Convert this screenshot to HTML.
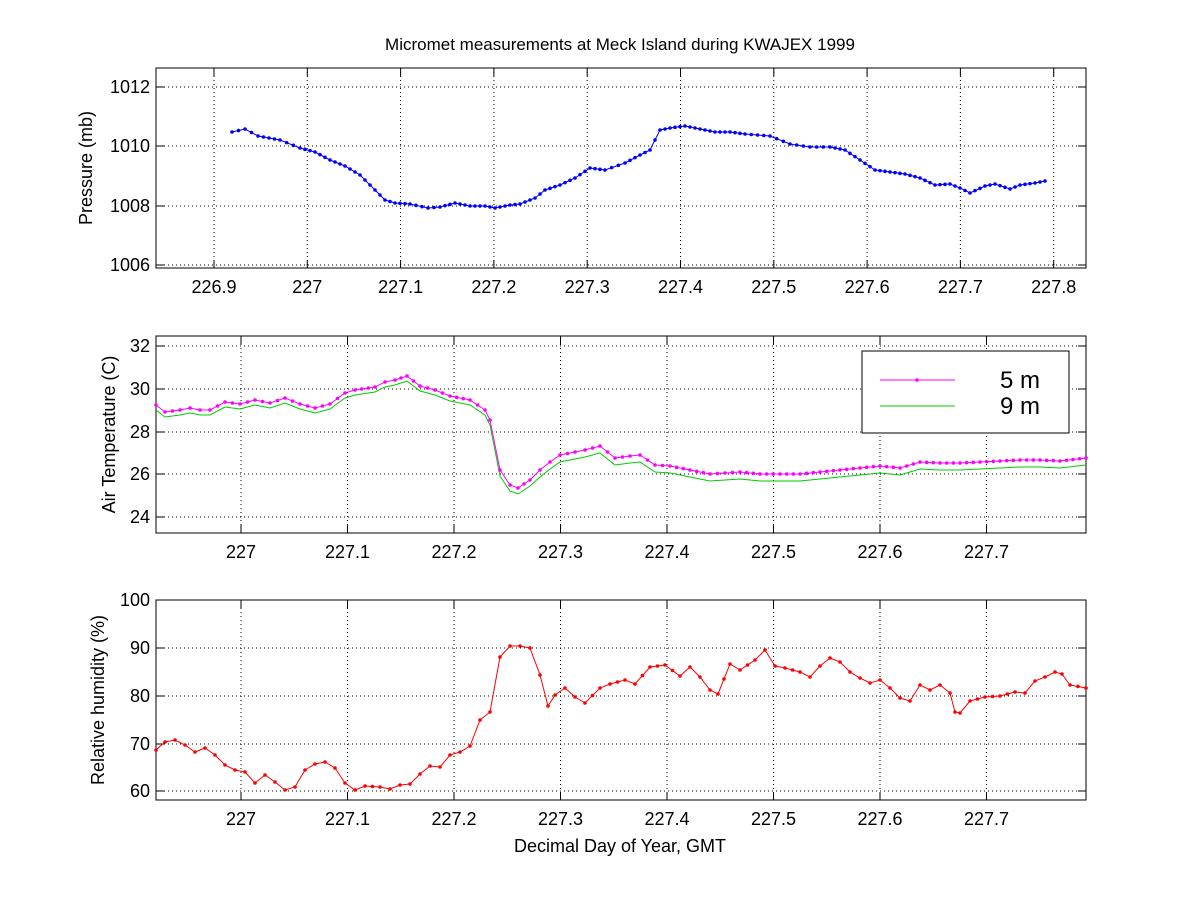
<!DOCTYPE html>
<html><head><meta charset="utf-8"><style>
body{margin:0;background:#fff}
svg text{font-family:"Liberation Sans",Arial,sans-serif;fill:#000}
</style></head><body>
<svg id="s" width="1200" height="900" xmlns="http://www.w3.org/2000/svg">
<rect width="1200" height="900" fill="#fff"/>
</svg>
<script>
const S=document.getElementById('s');const NS='http://www.w3.org/2000/svg';
function el(t,a,txt){const e=document.createElementNS(NS,t);for(const k in a)e.setAttribute(k,a[k]);if(txt!==undefined)e.textContent=txt;S.appendChild(e);return e;}
const L=156,R=1086;
function axes(top,bot,xt,yt,ylab,lx){
  xt.forEach(([x,l])=>{el('line',{x1:x,y1:top,x2:x,y2:bot,stroke:'#000','stroke-width':1,'stroke-dasharray':'1,3'});
    el('line',{x1:x,y1:bot,x2:x,y2:bot-8,stroke:'#000'});el('line',{x1:x,y1:top,x2:x,y2:top+8,stroke:'#000'});
    el('text',{x:x,y:bot+25,'font-size':18,'text-anchor':'middle'},l);});
  yt.forEach(([y,l])=>{el('line',{x1:L,y1:y,x2:R,y2:y,stroke:'#000','stroke-width':1,'stroke-dasharray':'1,3'});
    el('line',{x1:L,y1:y,x2:L+8,y2:y,stroke:'#000'});el('line',{x1:R,y1:y,x2:R-8,y2:y,stroke:'#000'});
    el('text',{x:L-6,y:y+6,'font-size':18,'text-anchor':'end'},l);});
  el('rect',{x:L,y:top,width:R-L,height:bot-top,fill:'none',stroke:'#000'});
  const cy=(top+bot)/2;el('text',{x:0,y:0,'font-size':18,'text-anchor':'middle',transform:`translate(${lx},${cy}) rotate(-90)`},ylab);
}
function series(pts,col,step,dots,off){
  off=off||0;let d='';pts.forEach((p,i)=>d+=(i?'L':'M')+p[0]+','+(p[1]+off));
  el('path',{d:d,fill:'none',stroke:col,'stroke-width':1});
  if(!dots)return;
  for(let i=0;i<pts.length-1;i++){const [x0,y0]=pts[i],[x1,y1]=pts[i+1];const n=Math.max(1,Math.round((x1-x0)/step));
    for(let k=0;k<n;k++){const t=k/n;el('circle',{cx:x0+(x1-x0)*t,cy:y0+(y1-y0)*t+off,r:1.8,fill:col});}}
  const p=pts[pts.length-1];el('circle',{cx:p[0],cy:p[1]+off,r:1.8,fill:col});
}
el('text',{x:620,y:50,'font-size':17,'text-anchor':'middle'},'Micromet measurements at Meck Island during KWAJEX 1999');
const lab1=['226.9','227','227.1','227.2','227.3','227.4','227.5','227.6','227.7','227.8'];
const xt1=lab1.map((l,i)=>[214+93.3*i,l]);
axes(68,268,xt1,[[87,'1012'],[146,'1010'],[206,'1008'],[265,'1006']],'Pressure (mb)',92);
const P=[[232,132],[245,129],[258,136],[280,140],[300,148],[315,152],[330,160],[345,166],[360,175],[375,190],[385,200],[395,203],[410,204],[428,208],[440,207],[455,203],[470,206],[485,206],[495,208],[510,205],[520,204],[535,198],[545,190],[560,185],[575,178],[590,168],[605,170],[625,163],[640,155],[650,150],[660,130],[670,128],[685,126],[700,129],[715,132],[730,132],[745,134],[770,136],[790,144],[810,147],[830,147],[845,150],[860,160],[875,170],[890,172],[905,174],[920,178],[935,185],[950,184],[960,188],[970,193],[985,186],[995,184],[1010,189],[1020,185],[1035,183],[1045,181]];
series(P,'#0000ff',5.8,true);
const lab2=['227','227.1','227.2','227.3','227.4','227.5','227.6','227.7'];
const xt2=lab2.map((l,i)=>[241+106.5*i,l]);
axes(336,533,xt2,[[346,'32'],[389,'30'],[432,'28'],[474,'26'],[517,'24']],'Air Temperature (C)',115);
const T=[[156,405],[165,412],[180,410],[190,408],[200,410],[210,410],[225,402],[240,404],[255,400],[270,403],[285,398],[300,404],[315,408],[330,404],[345,393],[355,390],[375,387],[385,382],[395,380],[407,376],[420,386],[435,390],[450,396],[470,400],[485,410],[490,420],[500,470],[510,485],[518,488],[530,480],[540,470],[550,462],[560,455],[575,452],[585,450],[600,446],[615,458],[630,456],[640,455],[655,465],[670,466],[690,470],[710,474],[740,472],[760,474],[780,474],[800,474],[820,472],[840,470],[860,468],[880,466],[900,468],[920,462],[940,463],[960,463],[980,462],[1000,461],[1020,460],[1040,460],[1060,461],[1086,458]];
const T9=T.map(p=>[p[0],p[1]+(p[0]<495?5:(p[0]<540?6:7))]);
series(T9,'#00cc00',7,false);
series(T,'#ff00ff',7,true);
el('rect',{x:862,y:351,width:207,height:82,fill:'#fff',stroke:'#000'});
el('line',{x1:880,y1:380,x2:955,y2:380,stroke:'#ff00ff'});el('circle',{cx:917,cy:380,r:1.8,fill:'#ff00ff'});
el('line',{x1:880,y1:406,x2:955,y2:406,stroke:'#00cc00'});
el('text',{x:1000,y:388,'font-size':24},'5 m');el('text',{x:1000,y:414,'font-size':24},'9 m');
axes(600,800,xt2,[[600,'100'],[648,'90'],[696,'80'],[744,'70'],[791,'60']],'Relative humidity (%)',104);
const H=[[156,750],[165,742],[175,740],[185,745],[195,752],[205,748],[215,755],[225,765],[235,770],[245,772],[255,783],[265,775],[275,782],[285,790],[295,787],[305,770],[315,764],[325,762],[335,768],[345,783],[355,790],[365,786],[380,787],[390,789],[400,785],[410,784],[420,774],[430,766],[440,767],[450,755],[460,752],[470,746],[480,720],[490,712],[500,657],[510,646],[520,646],[530,648],[540,675],[548,706],[555,695],[565,688],[575,697],[585,703],[600,688],[610,684],[625,680],[635,684],[650,667],[665,665],[680,676],[690,667],[700,677],[710,690],[718,694],[730,664],[740,670],[755,660],[765,650],[775,666],[785,668],[800,672],[810,677],[820,666],[830,658],[840,662],[850,672],[860,678],[870,683],[880,680],[890,688],[900,698],[910,701],[920,685],[930,690],[940,685],[950,693],[955,712],[960,713],[970,701],[985,697],[1000,696],[1015,692],[1025,693],[1035,681],[1045,677],[1055,672],[1062,674],[1070,685],[1086,688]];
series(H,'#ff0000',6.8,true);
el('text',{x:620,y:852,'font-size':18,'text-anchor':'middle'},'Decimal Day of Year, GMT');
</script>
</body></html>
